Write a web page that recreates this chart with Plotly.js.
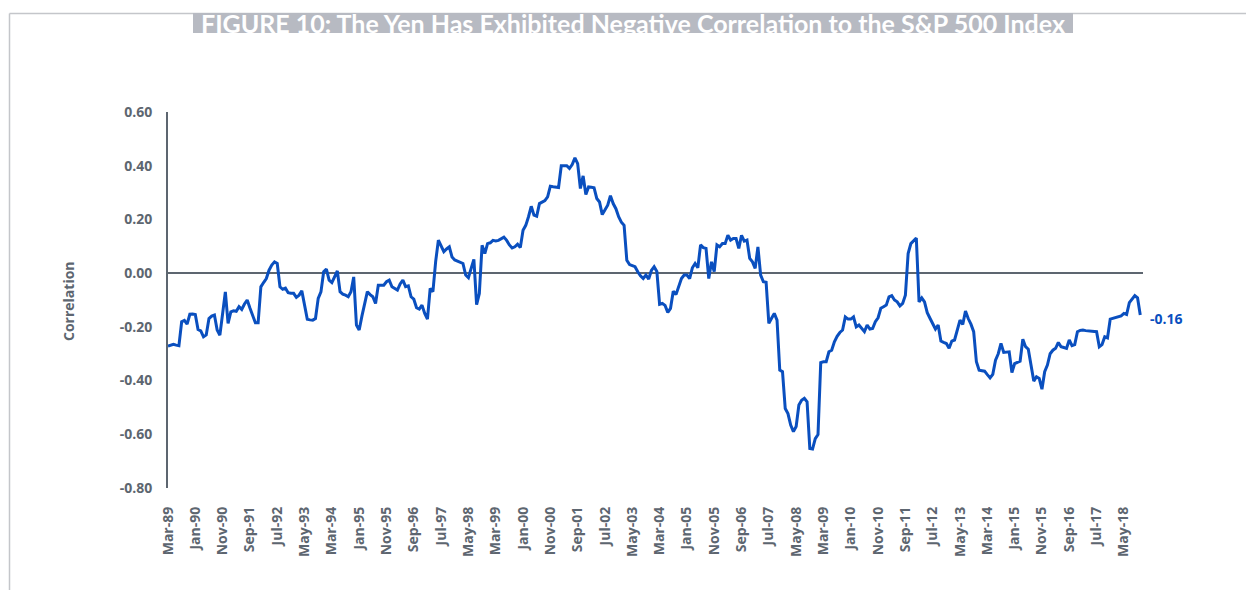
<!DOCTYPE html>
<html>
<head>
<meta charset="utf-8">
<script src="https://cdn.plot.ly/plotly-3.0.1.min.js"></script>
<style>
  html, body { margin: 0; padding: 0; background: #ffffff; }
  #chart { width: 1246px; height: 590px; }
</style>
</head>
<body>
<div id="chart"></div>
<script>
// Monthly correlation, Mar-89 .. Nov-18
const startYear = 1989;
const startMonth = 2; // March (0-based)
const monthNames = ['Jan','Feb','Mar','Apr','May','Jun','Jul','Aug','Sep','Oct','Nov','Dec'];

const correlation = [
  -0.272,-0.268,-0.265,-0.268,-0.270,-0.181,-0.176,-0.190,-0.153,-0.152,
  -0.154,-0.210,-0.215,-0.237,-0.230,-0.169,-0.160,-0.156,-0.212,-0.231,
  -0.150,-0.070,-0.187,-0.144,-0.140,-0.142,-0.125,-0.135,-0.115,-0.100,
  -0.130,-0.160,-0.185,-0.185,-0.051,-0.035,-0.020,0.011,0.030,0.042,
  0.036,-0.051,-0.060,-0.056,-0.073,-0.075,-0.075,-0.090,-0.082,-0.066,
  -0.120,-0.172,-0.174,-0.175,-0.169,-0.094,-0.070,0.005,0.015,-0.026,
  -0.035,-0.013,0.008,-0.069,-0.078,-0.082,-0.088,-0.069,-0.014,-0.193,
  -0.212,-0.160,-0.119,-0.069,-0.080,-0.088,-0.113,-0.045,-0.045,-0.045,
  -0.032,-0.026,-0.051,-0.058,-0.063,-0.040,-0.026,-0.050,-0.047,-0.088,
  -0.097,-0.129,-0.134,-0.119,-0.150,-0.171,-0.057,-0.069,0.043,0.123,
  0.100,0.080,0.090,0.098,0.060,0.049,0.045,0.040,0.036,-0.007,
  -0.017,0.018,0.051,-0.117,-0.076,0.104,0.073,0.110,0.113,0.122,
  0.120,0.122,0.128,0.134,0.122,0.105,0.094,0.098,0.108,0.095,
  0.160,0.178,0.210,0.249,0.216,0.212,0.259,0.265,0.270,0.284,
  0.324,0.322,0.321,0.319,0.400,0.399,0.400,0.390,0.404,0.429,
  0.408,0.315,0.362,0.293,0.321,0.320,0.318,0.278,0.265,0.218,
  0.234,0.253,0.288,0.259,0.240,0.210,0.190,0.178,0.048,0.032,
  0.028,0.024,0.005,-0.010,-0.020,-0.007,-0.022,0.010,0.024,0.006,
  -0.116,-0.113,-0.120,-0.146,-0.131,-0.067,-0.080,-0.050,-0.020,-0.007,
  -0.007,-0.020,0.020,0.036,0.020,0.105,0.095,0.092,-0.020,0.042,
  0.006,0.105,0.098,0.110,0.110,0.141,0.123,0.129,0.129,0.092,
  0.141,0.119,0.123,0.055,0.042,0.018,0.098,-0.007,-0.032,-0.034,
  -0.187,-0.168,-0.150,-0.175,-0.361,-0.367,-0.504,-0.523,-0.566,-0.590,
  -0.571,-0.491,-0.473,-0.466,-0.479,-0.653,-0.655,-0.616,-0.601,-0.333,
  -0.330,-0.330,-0.293,-0.287,-0.256,-0.235,-0.221,-0.212,-0.163,-0.171,
  -0.171,-0.163,-0.200,-0.193,-0.206,-0.218,-0.193,-0.208,-0.206,-0.181,
  -0.166,-0.131,-0.125,-0.119,-0.088,-0.084,-0.100,-0.107,-0.122,-0.113,
  -0.082,0.073,0.110,0.119,0.131,-0.107,-0.092,-0.107,-0.147,-0.168,
  -0.187,-0.208,-0.193,-0.253,-0.258,-0.262,-0.280,-0.253,-0.249,-0.210,
  -0.175,-0.191,-0.141,-0.169,-0.190,-0.218,-0.330,-0.361,-0.362,-0.365,
  -0.378,-0.390,-0.377,-0.324,-0.300,-0.262,-0.295,-0.294,-0.293,-0.370,
  -0.337,-0.332,-0.328,-0.246,-0.274,-0.283,-0.342,-0.402,-0.386,-0.392,
  -0.432,-0.367,-0.342,-0.300,-0.287,-0.280,-0.258,-0.274,-0.277,-0.280,
  -0.249,-0.270,-0.266,-0.218,-0.213,-0.212,-0.214,-0.215,-0.216,-0.218,
  -0.218,-0.274,-0.266,-0.237,-0.241,-0.171,-0.168,-0.166,-0.162,-0.159,
  -0.150,-0.154,-0.110,-0.095,-0.084,-0.092,-0.156
];

const tickLabels = [
  'Mar-89','Jan-90','Nov-90','Sep-91','Jul-92','May-93','Mar-94','Jan-95','Nov-95',
  'Sep-96','Jul-97','May-98','Mar-99','Jan-00','Nov-00','Sep-01','Jul-02','May-03',
  'Mar-04','Jan-05','Nov-05','Sep-06','Jul-07','May-08','Mar-09','Jan-10','Nov-10',
  'Sep-11','Jul-12','May-13','Mar-14','Jan-15','Nov-15','Sep-16','Jul-17','May-18'
];

const yTickVals = [-0.8, -0.6, -0.4, -0.2, 0, 0.2, 0.4, 0.6];
const yTickText = ['-0.80', '-0.60', '-0.40', '-0.20', '0.00', '0.20', '0.40', '0.60'];

const endLabel = '-0.16';
const titleText = 'FIGURE 10: The Yen Has Exhibited Negative Correlation to the S&P 500 Index';
const yTitle = 'Correlation';

// month categories
const months = correlation.map((_, i) => {
  const t = startMonth + i;
  const y = startYear + Math.floor(t / 12);
  return monthNames[t % 12] + '-' + String(y % 100).padStart(2, '0');
});

const lineColor = '#0a4fbf';
const gray = '#5d6670';
const fontFam = '"Open Sans", Lato, sans-serif';
const titleFam = 'Lato, "Open Sans", sans-serif';

// pixel -> paper helpers for decoration
const L = 168, R = 103, T = 112, B = 102, W = 1246, H = 590;
const pw = W - L - R, ph = H - T - B;
const px = v => (v - L) / pw;
const py = v => (H - B - v) / ph;

const trace = {
  x: months,
  y: correlation,
  type: 'scatter',
  mode: 'lines',
  line: { color: lineColor, width: 3 },
  hoverinfo: 'x+y'
};

const layout = {
  width: W, height: H,
  margin: { l: L, r: R, t: T, b: B, pad: 0 },
  paper_bgcolor: '#ffffff',
  plot_bgcolor: '#ffffff',
  showlegend: false,
  font: { family: fontFam, color: gray },
  xaxis: {
    type: 'category',
    range: [0, months.length],
    tickmode: 'array',
    tickvals: tickLabels,
    ticktext: tickLabels,
    tickangle: -90,
    ticks: '',
    ticklabelstandoff: 15,
    showgrid: false,
    showline: false,
    zeroline: false,
    tickfont: { family: fontFam, size: 14, color: gray, weight: 'bold' }
  },
  yaxis: {
    range: [-0.8, 0.6],
    tickmode: 'array',
    tickvals: yTickVals,
    ticktext: yTickText,
    ticks: '',
    ticklabelstandoff: 11,
    showgrid: false,
    showline: true,
    linecolor: gray,
    linewidth: 2,
    zeroline: true,
    zerolinecolor: gray,
    zerolinewidth: 2,
    tickfont: { family: fontFam, size: 14, color: gray, weight: 'bold' }
  },
  shapes: [
    // frame lines (top & left)
    { type: 'line', xref: 'paper', yref: 'paper', x0: px(9.5), x1: px(1260), y0: py(13.5), y1: py(13.5),
      line: { color: '#c4c6ca', width: 1.5 } },
    { type: 'line', xref: 'paper', yref: 'paper', x0: px(9.5), x1: px(9.5), y0: py(13.5), y1: py(600),
      line: { color: '#c4c6ca', width: 1.5 } },
    // title banner
    { type: 'rect', xref: 'paper', yref: 'paper', x0: px(193), x1: px(1073), y0: py(13), y1: py(33),
      fillcolor: '#b7bac2', line: { width: 0 } }
  ],
  annotations: [
    { xref: 'paper', yref: 'paper', x: px(633), y: py(23), xanchor: 'center', yanchor: 'middle',
      text: titleText, showarrow: false,
      font: { family: titleFam, size: 25, color: '#ffffff', weight: 'bold' } },
    { xref: 'paper', yref: 'paper', x: px(68), y: py(301), xanchor: 'center', yanchor: 'middle',
      text: yTitle, textangle: -90, showarrow: false,
      font: { family: fontFam, size: 14, color: gray, weight: 'bold' } },
    { xref: 'x', yref: 'y', x: months[months.length - 1], y: correlation[correlation.length - 1],
      xanchor: 'left', yanchor: 'middle', xshift: 8, yshift: -3, text: endLabel, showarrow: false,
      font: { family: fontFam, size: 14, color: lineColor, weight: 'bold' } }
  ]
};

Plotly.newPlot('chart', [trace], layout, { displayModeBar: false, staticPlot: true });
</script>
</body>
</html>
